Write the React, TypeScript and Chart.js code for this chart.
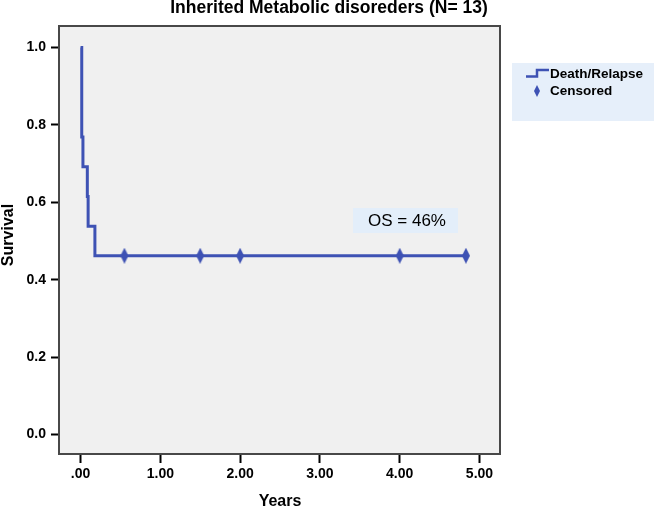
import React, { useEffect, useRef } from "react";
import { Chart, registerables } from "chart.js";

Chart.register(...registerables);

const titleText = "Inherited Metabolic disoreders (N= 13)";
const xAxisTitle = "Years";
const yAxisTitle = "Survival";
const legendLabels = ["Death/Relapse", "Censored"];
const annotationText = "OS = 46%";

// Kaplan-Meier step curve (start + drops + end of follow-up)
const stepTimes = [0, 0.015, 0.03, 0.085, 0.095, 0.18, 4.83];
const stepSurvival = [1.0, 0.769, 0.692, 0.615, 0.538, 0.462, 0.462];

// Censored observations
const censoredTimes = [0.55, 1.5, 2.0, 4.0, 4.83];
const censoredSurvival = [0.462, 0.462, 0.462, 0.462, 0.462];

const xTickValues = [0, 1, 2, 3, 4, 5];
const yTickValues = [0, 0.2, 0.4, 0.6, 0.8, 1.0];

const BLUE = "#3E52B4";
const FONT = '"Liberation Sans", Arial, sans-serif';

function makeDiamond(w: number, h: number, color: string) {
  const c = document.createElement("canvas");
  c.width = w;
  c.height = h;
  const ctx = c.getContext("2d")!;
  ctx.fillStyle = color;
  ctx.beginPath();
  ctx.moveTo(w / 2, 0);
  ctx.lineTo(w, h / 2);
  ctx.lineTo(w / 2, h);
  ctx.lineTo(0, h / 2);
  ctx.closePath();
  ctx.fill();
  return c;
}

export default function App() {
  const canvasRef = useRef<HTMLCanvasElement | null>(null);

  useEffect(() => {
    const canvas = canvasRef.current;
    if (!canvas) return;
    const diamond = makeDiamond(8, 16, BLUE);

    const decor = {
      id: "decor",
      beforeDraw(chart: any) {
        const { ctx, chartArea: a } = chart;
        ctx.save();
        ctx.fillStyle = "#ffffff";
        ctx.fillRect(0, 0, chart.width, chart.height);
        ctx.fillStyle = "#F0F0F0";
        ctx.fillRect(a.left, a.top, a.right - a.left, a.bottom - a.top);
        ctx.restore();
      },
      beforeDatasetsDraw(chart: any) {
        const { ctx } = chart;
        ctx.save();
        // OS annotation box
        ctx.fillStyle = "#E3EEFA";
        ctx.fillRect(353, 208, 105, 25);
        ctx.fillStyle = "#000";
        ctx.font = `17px ${FONT}`;
        ctx.textAlign = "center";
        ctx.textBaseline = "middle";
        ctx.fillText(annotationText, 407, 221);
        ctx.restore();
      },
      afterDraw(chart: any) {
        const { ctx, chartArea: a } = chart;
        ctx.save();
        // frame
        ctx.strokeStyle = "#484848";
        ctx.lineWidth = 2;
        ctx.strokeRect(a.left, a.top, a.right - a.left, a.bottom - a.top);

        // title
        ctx.fillStyle = "#000";
        ctx.font = `bold 17.5px ${FONT}`;
        ctx.textAlign = "center";
        ctx.textBaseline = "middle";
        ctx.fillText(titleText, 329, 8);

        // axis titles
        ctx.font = `bold 16px ${FONT}`;
        ctx.fillText(xAxisTitle, 280, 502);
        ctx.save();
        ctx.translate(9, 235);
        ctx.rotate(-Math.PI / 2);
        ctx.font = `bold 16px ${FONT}`;
        ctx.fillText(yAxisTitle, 0, 0);
        ctx.restore();

        // legend
        ctx.fillStyle = "#E6EFFA";
        ctx.fillRect(512, 63, 142, 58);
        ctx.strokeStyle = BLUE;
        ctx.lineWidth = 2.5;
        ctx.beginPath();
        ctx.moveTo(526, 76.5);
        ctx.lineTo(537, 76.5);
        ctx.lineTo(537, 70);
        ctx.lineTo(549, 70);
        ctx.stroke();
        ctx.drawImage(makeDiamond(6, 12, BLUE), 534, 85);
        ctx.fillStyle = "#000";
        ctx.font = `bold 13.5px ${FONT}`;
        ctx.textAlign = "left";
        ctx.fillText(legendLabels[0], 550, 74);
        ctx.fillText(legendLabels[1], 550, 91);
        ctx.restore();
      },
    };

    const chart = new Chart(canvas, {
      type: "scatter",
      data: {
        datasets: [
          {
            label: legendLabels[0],
            data: stepTimes.map((t, i) => ({ x: t, y: stepSurvival[i] })),
            showLine: true,
            stepped: true,
            borderColor: BLUE,
            borderWidth: 3,
            pointRadius: 0,
            fill: false,
          } as any,
          {
            label: legendLabels[1],
            data: censoredTimes.map((t, i) => ({ x: t, y: censoredSurvival[i] })),
            showLine: false,
            pointStyle: diamond,
            pointRadius: 8,
            backgroundColor: BLUE,
            borderColor: BLUE,
          } as any,
        ],
      },
      options: {
        responsive: false,
        animation: false,
        devicePixelRatio: 1,
        layout: { padding: { top: 26, right: 154, left: 0, bottom: 0 } },
        plugins: {
          legend: { display: false },
          title: { display: false },
          tooltip: { enabled: false },
        },
        scales: {
          x: {
            type: "linear",
            min: -0.27,
            max: 5.257,
            afterBuildTicks: (s: any) => {
              s.ticks = xTickValues.map((v) => ({ value: v }));
            },
            afterFit: (s: any) => {
              s.height = 56;
            },
            ticks: {
              callback: (v: any) => (Number(v) === 0 ? ".00" : Number(v).toFixed(2)),
              font: { family: FONT, size: 14, weight: "bold" },
              color: "#000",
              padding: 3,
              maxRotation: 0,
              autoSkip: false,
            },
            grid: {
              drawOnChartArea: false,
              drawTicks: true,
              tickLength: 9,
              tickColor: "#000",
              tickWidth: 2,
            },
            border: { display: false },
          },
          y: {
            type: "linear",
            min: -0.0505,
            max: 1.0557,
            afterBuildTicks: (s: any) => {
              s.ticks = yTickValues.map((v) => ({ value: v }));
            },
            afterFit: (s: any) => {
              s.width = 59;
            },
            ticks: {
              callback: (v: any) => Number(v).toFixed(1),
              font: { family: FONT, size: 14, weight: "bold" },
              color: "#000",
              padding: 5,
              autoSkip: false,
            },
            grid: {
              drawOnChartArea: false,
              drawTicks: true,
              tickLength: 8,
              tickColor: "#000",
              tickWidth: 2,
            },
            border: { display: false },
          },
        },
      } as any,
      plugins: [decor],
    });

    return () => chart.destroy();
  }, []);

  return (
    <div style={{ position: "absolute", left: 0, top: 0, width: 654, height: 510 }}>
      <canvas ref={canvasRef} width={654} height={510} style={{ display: "block" }} />
    </div>
  );
}
